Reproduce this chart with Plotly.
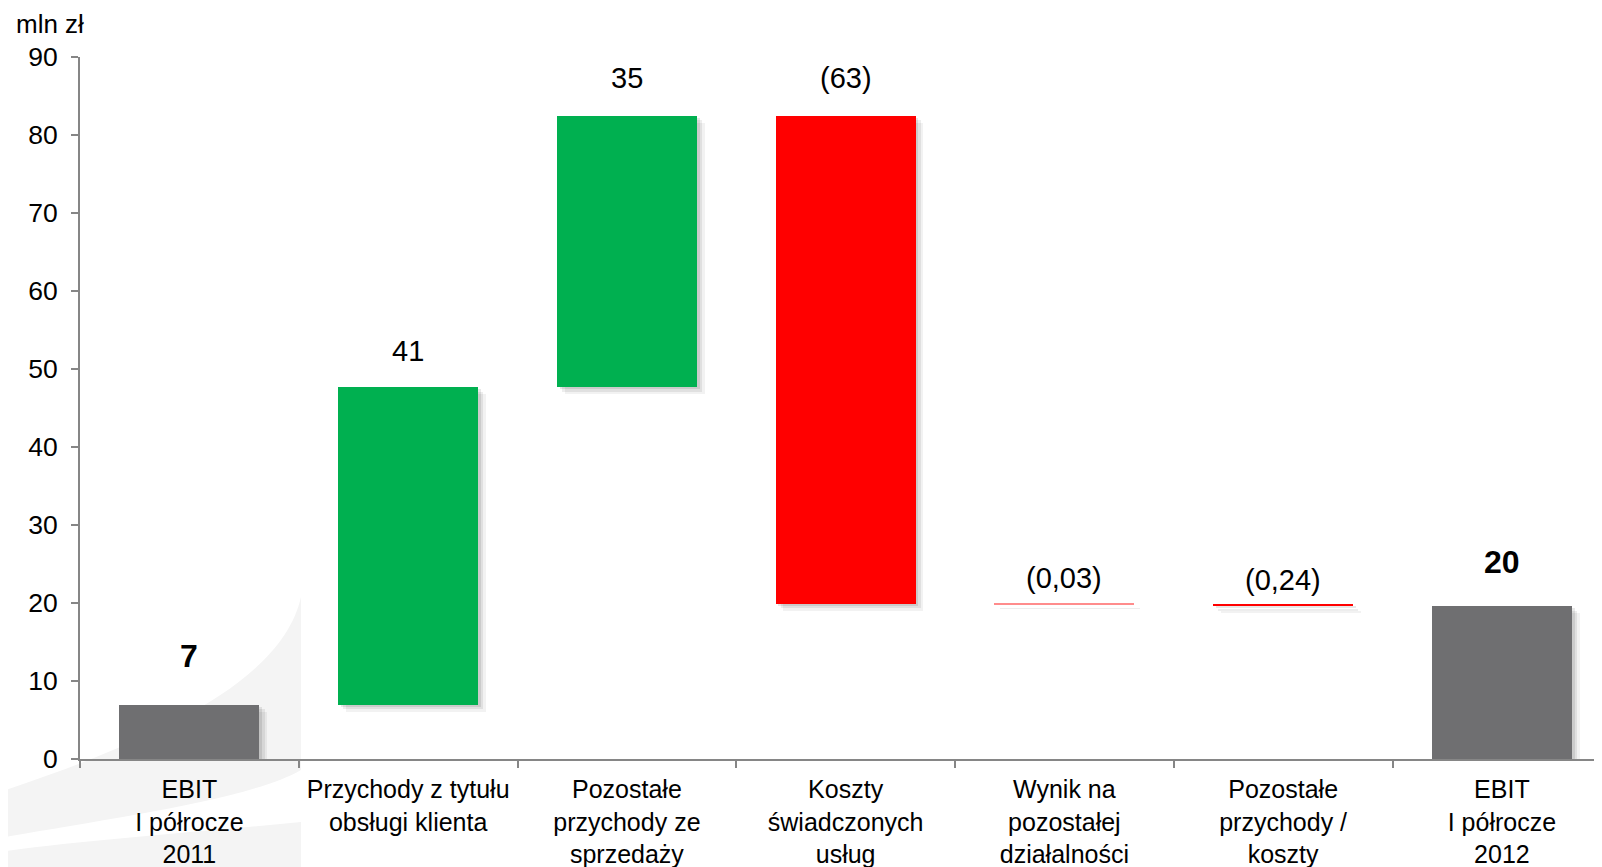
import plotly.graph_objects as go

# data (mln zł)
categories = [
    "EBIT<br>I półrocze<br>2011",
    "Przychody z tytułu<br>obsługi klienta",
    "Pozostałe<br>przychody ze<br>sprzedaży",
    "Koszty<br>świadczonych<br>usług",
    "Wynik na<br>pozostałej<br>działalności",
    "Pozostałe<br>przychody /<br>koszty",
    "EBIT<br>I półrocze<br>2012",
]
start_value = 6.96
changes = [40.74, 34.8, -62.6, -0.03, -0.24]
end_value = 19.63
value_labels = ["7", "41", "35", "(63)", "(0,03)", "(0,24)", "20"]

# styles
GRAY = "#6f6f71"
GREEN = "#00b050"
RED = "#ff0000"
RED_THIN = "#ff8c8c"
AXIS = "#868686"
FONT = "Liberation Sans, Arial, sans-serif"

bases = [0]
heights = [start_value]
colors = [GRAY]
level = start_value
for c in changes:
    if c >= 0:
        bases.append(level)
        heights.append(c)
        colors.append(GREEN)
    else:
        bases.append(level + c)
        heights.append(-c)
        # sub-pixel bars show up only as a faint line
        colors.append(RED if -c > 0.1 else RED_THIN)
    level += c
bases.append(0)
heights.append(end_value)
colors.append(GRAY)

bar_w = 0.64

fig = go.Figure()

# soft drop shadow behind bars
for dx, dy, alpha in [(0.035, -0.9, 0.05), (0.024, -0.6, 0.07), (0.012, -0.3, 0.09)]:
    fig.add_trace(go.Bar(
        x=categories, y=heights, base=[b + dy for b in bases],
        width=bar_w, offset=-bar_w / 2 + dx,
        marker=dict(color="rgba(0,0,0,%s)" % alpha, line_width=0),
        hoverinfo="skip", showlegend=False,
    ))

fig.add_trace(go.Bar(
    x=categories, y=heights, base=bases,
    width=bar_w, offset=-bar_w / 2,
    marker=dict(color=colors, line_width=0),
    showlegend=False,
))

# value labels above bars
label_shift = [49, 36, 38, 38, 26, 24, 44]
bold = [True, False, False, False, False, False, True]
for i, txt in enumerate(value_labels):
    top = bases[i] + heights[i]
    fig.add_annotation(
        x=categories[i], y=top, yshift=label_shift[i],
        text="<b>%s</b>" % txt if bold[i] else txt,
        showarrow=False, xanchor="center", yanchor="middle",
        font=dict(family=FONT, size=32 if bold[i] else 29, color="black"),
    )

# page body has an 8px margin, so the figure is 8px smaller than the window
W, H = 1594, 859
L, R, T, B = 72, 0, 49, 108
pw, ph = W - L - R, H - T - B


def P(sx, sy):
    # screen pixel -> paper coords
    px, py = sx - 8, sy - 8
    return "%.4f,%.4f" % ((px - L) / pw, (H - B - py) / ph)


# faint watermark swoosh bottom left
fig.add_shape(
    type="path", xref="paper", yref="paper", layer="below",
    path="M " + P(0, 792) + " C " + P(130, 748) + " " + P(280, 690) + " " + P(301, 597)
         + " L " + P(301, 770) + " C " + P(250, 800) + " " + P(100, 820) + " " + P(0, 838) + " Z",
    fillcolor="#f4f4f4", line_width=0,
)
fig.add_shape(
    type="path", xref="paper", yref="paper", layer="below",
    path="M " + P(0, 852) + " C " + P(80, 840) + " " + P(200, 832) + " " + P(301, 822)
         + " L " + P(301, 867) + " L " + P(0, 867) + " Z",
    fillcolor="#f4f4f4", line_width=0,
)

fig.add_annotation(
    xref="paper", yref="paper", x=(6 - L) / pw, y=(H - B - 16) / ph,
    xanchor="left", yanchor="middle", text="mln zł", showarrow=False,
    font=dict(family=FONT, size=26, color="black"),
)

fig.update_layout(
    width=W, height=H,
    margin=dict(l=L, r=R, t=T, b=B),
    paper_bgcolor="white", plot_bgcolor="rgba(0,0,0,0)",
    barmode="overlay", bargap=0,
    font=dict(family=FONT, color="black"),
    xaxis=dict(
        type="category",
        range=[-0.5, -0.5 + pw / 218.75],
        tickson="boundaries", ticks="outside", ticklen=7, tickwidth=2, tickcolor=AXIS,
        showline=True, linecolor=AXIS, linewidth=2,
        showgrid=False, zeroline=False, automargin=False,
        tickangle=0,
        tickfont=dict(family=FONT, size=25, color="black"),
        ticklabelstandoff=7,
        fixedrange=True,
    ),
    yaxis=dict(
        range=[0, 90], tickvals=list(range(0, 91, 10)),
        ticks="outside", ticklen=7, tickwidth=2, tickcolor=AXIS,
        showline=True, linecolor=AXIS, linewidth=2,
        showgrid=False, zeroline=False, automargin=False,
        tickfont=dict(family=FONT, size=26.5, color="black"),
        ticklabelstandoff=8,
        fixedrange=True,
    ),
)

fig.write_html("out.html")
